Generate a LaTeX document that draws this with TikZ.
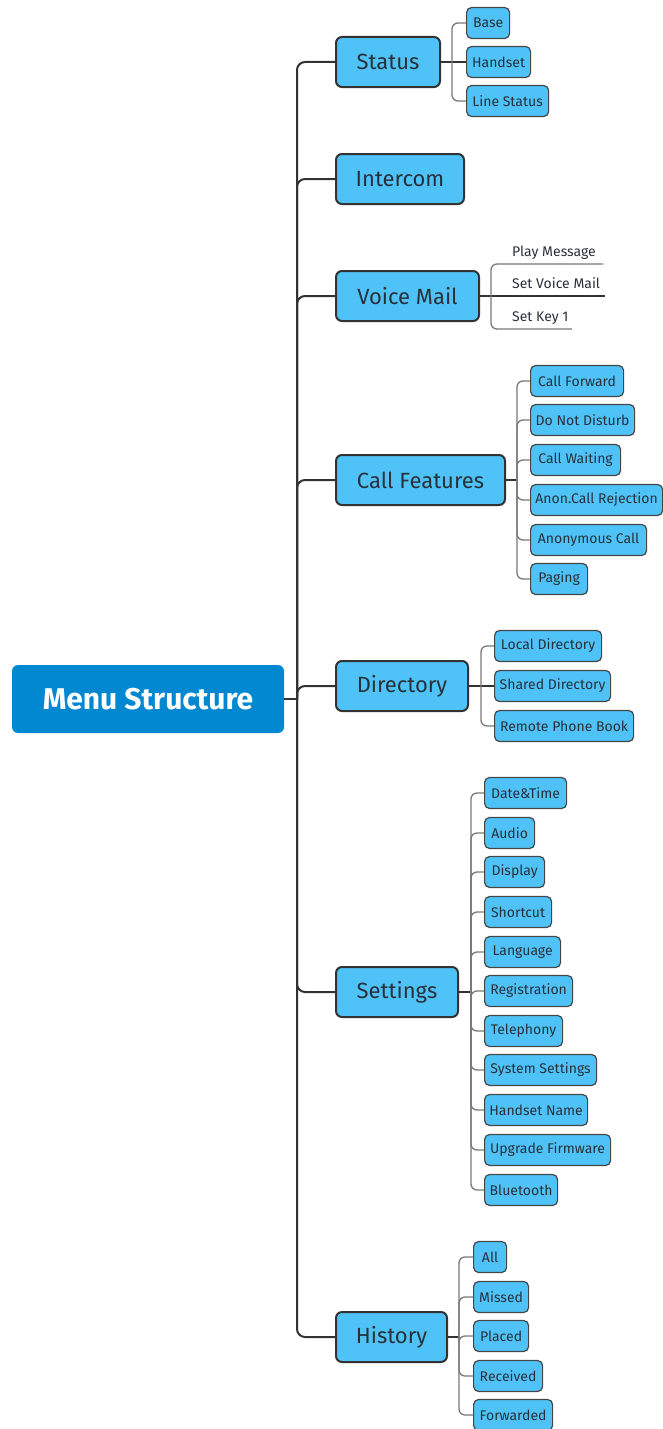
\documentclass[tikz,border=0pt]{standalone}
\usepackage{fontspec}
\setmainfont{Fira Sans}
\usetikzlibrary{positioning}

\definecolor{rootblue}{RGB}{2,136,209}
\definecolor{boxblue}{RGB}{79,195,247}
\definecolor{darkline}{RGB}{51,51,51}
\definecolor{greyline}{RGB}{120,120,120}
\definecolor{leafedge}{RGB}{70,70,70}
\definecolor{txtgray}{RGB}{40,48,58}

\tikzset{
  rootbox/.style={fill=rootblue, rounded corners=6, text=white,
    font=\fontsize{30}{36}\selectfont\bfseries, minimum width=272, minimum height=68, inner sep=0},
  topicbox/.style={draw=darkline, line width=2, fill=boxblue, rounded corners=6, text=txtgray,
    font=\fontsize{22}{26}\selectfont, minimum height=50, inner sep=0, anchor=west},
  leafbox/.style={draw=leafedge, line width=1.2, fill=boxblue, rounded corners=5, text=txtgray,
    font=\fontsize{14}{16}\selectfont, minimum height=31, inner sep=0, anchor=west},
  plainleaf/.style={text=txtgray, font=\fontsize{14}{16}\selectfont, inner sep=0, anchor=base west},
  trunk/.style={draw=darkline, line width=2, rounded corners=8},
  twig/.style={draw=darkline, line width=1.3},
  bracket/.style={draw=greyline, line width=1.3, rounded corners=6}
}

\begin{document}
\begin{tikzpicture}[x={(1pt,0pt)}, y={(0pt,-1pt)}]
  \useasboundingbox (0,0) rectangle (662,1429);

  % Nodes
  \node[rootbox] (Menu) at (148,699) {Menu Structure};
  \coordinate (Trunk) at (297,699);

  \node[topicbox, minimum width=104] (Status) at (335,62) {Status};
  \node[topicbox, minimum width=128] (Intercom) at (335,179) {Intercom};
  \node[topicbox, minimum width=143] (VoiceMail) at (335,296) {Voice Mail};
  \node[topicbox, minimum width=169] (CallFeat) at (335,480) {Call Features};
  \node[topicbox, minimum width=132] (Directory) at (335,686) {Directory};
  \node[topicbox, minimum width=122] (Settings) at (335,992) {Settings};
  \node[topicbox, minimum width=111] (History) at (335,1337) {History};

  % Status
  \coordinate (StatusJ) at (452,62);
  \node[leafbox, minimum width=43] (Base) at (466,23) {Base};
  \node[leafbox, minimum width=64] (Handset) at (466,62) {Handset};
  \node[leafbox, minimum width=82] (LineStatus) at (466,101) {Line Status};

  % Voice Mail
  \coordinate (VoiceJ) at (491,296);
  \coordinate (PlayEnd) at (603,264);
  \coordinate (SetVMEnd) at (605,296);
  \coordinate (KeyEnd) at (572,329);
  \node[plainleaf] (PlayMsg) at (512,256) {Play Message};
  \node[plainleaf] (SetVM) at (512,288) {Set Voice Mail};
  \node[plainleaf] (SetKey) at (512,321) {Set Key 1};

  % Call Features
  \coordinate (CallJ) at (517,480);
  \node[leafbox, minimum width=93] (CallFwd) at (530,381) {Call Forward};
  \node[leafbox, minimum width=104] (DND) at (530,420) {Do Not Disturb};
  \node[leafbox, minimum width=90] (CallWait) at (530,460) {Call Waiting};
  \node[leafbox, minimum width=132] (AnonRej) at (530,500) {Anon.Call Rejection};
  \node[leafbox, minimum width=116] (AnonCall) at (530,540) {Anonymous Call};
  \node[leafbox, minimum width=57] (Paging) at (530,579) {Paging};

  % Directory
  \coordinate (DirJ) at (481,686);
  \node[leafbox, minimum width=107] (LocalDir) at (494,646) {Local Directory};
  \node[leafbox, minimum width=116] (SharedDir) at (494,686) {Shared Directory};
  \node[leafbox, minimum width=139] (RemoteBook) at (494,726) {Remote Phone Book};

  % Settings
  \coordinate (SetJ) at (471,992);
  \node[leafbox, minimum width=82] (DateTime) at (484,793) {Date\&Time};
  \node[leafbox, minimum width=50] (Audio) at (484,833) {Audio};
  \node[leafbox, minimum width=60] (Display) at (484,872) {Display};
  \node[leafbox, minimum width=67] (Shortcut) at (484,912) {Shortcut};
  \node[leafbox, minimum width=76] (Language) at (484,952) {Language};
  \node[leafbox, minimum width=88] (Registration) at (484,991) {Registration};
  \node[leafbox, minimum width=78] (Telephony) at (484,1031) {Telephony};
  \node[leafbox, minimum width=112] (SysSet) at (484,1070) {System Settings};
  \node[leafbox, minimum width=103] (HandsetName) at (484,1110) {Handset Name};
  \node[leafbox, minimum width=126] (Upgrade) at (484,1150) {Upgrade Firmware};
  \node[leafbox, minimum width=73] (Bluetooth) at (484,1190) {Bluetooth};

  % History
  \coordinate (HistJ) at (459,1337);
  \node[leafbox, minimum width=33] (All) at (473,1257) {All};
  \node[leafbox, minimum width=55] (Missed) at (473,1297) {Missed};
  \node[leafbox, minimum width=55] (Placed) at (473,1336) {Placed};
  \node[leafbox, minimum width=69] (Received) at (473,1376) {Received};
  \node[leafbox, minimum width=79] (Forwarded) at (473,1415) {Forwarded};

  % Edges
  \draw[trunk] (Menu.east) -- (Trunk);
  \draw[trunk] (Trunk) |- (Status.west);
  \draw[trunk] (Trunk) |- (Intercom.west);
  \draw[trunk] (Trunk) |- (VoiceMail.west);
  \draw[trunk] (Trunk) |- (CallFeat.west);
  \draw[trunk] (Trunk) |- (Directory.west);
  \draw[trunk] (Trunk) |- (Settings.west);
  \draw[trunk] (Trunk) |- (History.west);

  \draw[twig] (Status.east) -- (Handset.west);
  \draw[bracket] (StatusJ) |- (Base.west);
  \draw[bracket] (StatusJ) |- (LineStatus.west);

  \draw[twig] (VoiceMail.east) -- (SetVMEnd);
  \draw[bracket] (VoiceJ) |- (PlayEnd);
  \draw[bracket] (VoiceJ) |- (KeyEnd);

  \draw[twig] (CallFeat.east) -- (CallJ);
  \draw[bracket] (CallJ) |- (CallFwd.west);
  \draw[bracket] (CallJ) |- (DND.west);
  \draw[bracket] (CallJ) |- (CallWait.west);
  \draw[bracket] (CallJ) |- (AnonRej.west);
  \draw[bracket] (CallJ) |- (AnonCall.west);
  \draw[bracket] (CallJ) |- (Paging.west);

  \draw[twig] (Directory.east) -- (SharedDir.west);
  \draw[bracket] (DirJ) |- (LocalDir.west);
  \draw[bracket] (DirJ) |- (RemoteBook.west);

  \draw[twig] (Settings.east) -- (SetJ);
  \draw[bracket] (SetJ) |- (DateTime.west);
  \draw[bracket] (SetJ) |- (Audio.west);
  \draw[bracket] (SetJ) |- (Display.west);
  \draw[bracket] (SetJ) |- (Shortcut.west);
  \draw[bracket] (SetJ) |- (Language.west);
  \draw[bracket] (SetJ) |- (Registration.west);
  \draw[bracket] (SetJ) |- (Telephony.west);
  \draw[bracket] (SetJ) |- (SysSet.west);
  \draw[bracket] (SetJ) |- (HandsetName.west);
  \draw[bracket] (SetJ) |- (Upgrade.west);
  \draw[bracket] (SetJ) |- (Bluetooth.west);

  \draw[twig] (History.east) -- (HistJ);
  \draw[bracket] (HistJ) |- (All.west);
  \draw[bracket] (HistJ) |- (Missed.west);
  \draw[bracket] (HistJ) |- (Placed.west);
  \draw[bracket] (HistJ) |- (Received.west);
  \draw[bracket] (HistJ) |- (Forwarded.west);
\end{tikzpicture}
\end{document}
